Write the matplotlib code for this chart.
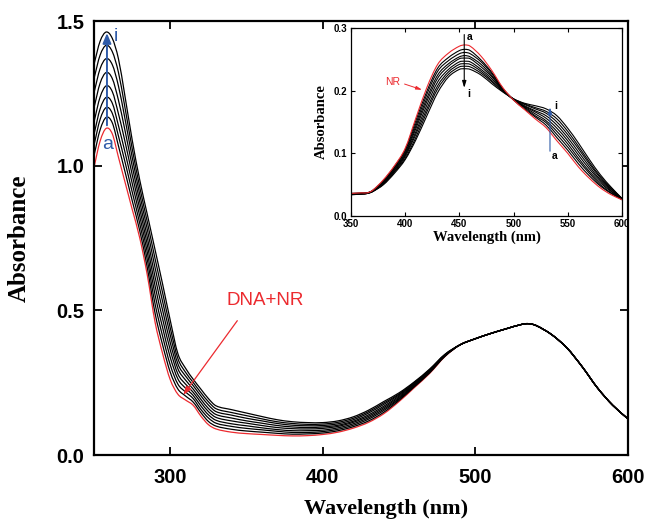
import matplotlib
matplotlib.use("Agg")
import matplotlib.pyplot as plt
from matplotlib.path import Path
from matplotlib.patches import PathPatch

# ---------------- main spectra (DNA + NR titration) ----------------
main_wl = [250, 254, 258, 262, 266, 270, 275, 280, 285, 290, 295, 300, 305, 310,
           315, 320, 325, 330, 340, 350, 360, 370, 380, 390, 400, 410, 420, 430,
           440, 450, 460, 470, 480,
           490, 500, 510, 520, 530, 535, 540, 550, 560, 570, 580, 590, 600]

# 250-480 nm, one list per curve (a = DNA+NR, red)
main_a = [0.994, 1.085, 1.129, 1.110, 1.030, 0.950, 0.850, 0.750, 0.620, 0.460, 0.350, 0.260, 0.210, 0.190,
          0.172, 0.135, 0.105, 0.090, 0.079, 0.074, 0.071, 0.068, 0.066, 0.067, 0.071, 0.079, 0.093, 0.113,
          0.143, 0.185, 0.233, 0.282, 0.340]
main_b = [1.035, 1.124, 1.167, 1.148, 1.069, 0.986, 0.880, 0.775, 0.646, 0.491, 0.380, 0.286, 0.228, 0.204,
          0.183, 0.147, 0.116, 0.100, 0.089, 0.083, 0.079, 0.075, 0.072, 0.073, 0.076, 0.084, 0.098, 0.118,
          0.148, 0.189, 0.236, 0.284, 0.341]
main_c = [1.071, 1.160, 1.201, 1.181, 1.103, 1.020, 0.910, 0.800, 0.673, 0.523, 0.410, 0.311, 0.245, 0.218,
          0.195, 0.158, 0.128, 0.110, 0.099, 0.092, 0.087, 0.082, 0.078, 0.078, 0.081, 0.089, 0.103, 0.124,
          0.154, 0.193, 0.238, 0.286, 0.342]
main_d = [1.108, 1.196, 1.236, 1.216, 1.139, 1.054, 0.940, 0.825, 0.699, 0.554, 0.440, 0.337, 0.263, 0.231,
          0.206, 0.170, 0.139, 0.120, 0.108, 0.101, 0.094, 0.088, 0.084, 0.084, 0.086, 0.094, 0.108, 0.129,
          0.159, 0.196, 0.241, 0.288, 0.343]
main_e = [1.151, 1.237, 1.276, 1.256, 1.180, 1.091, 0.970, 0.850, 0.725, 0.585, 0.470, 0.363, 0.280, 0.245,
          0.217, 0.182, 0.150, 0.130, 0.118, 0.110, 0.102, 0.095, 0.091, 0.090, 0.092, 0.099, 0.113, 0.134,
          0.164, 0.200, 0.243, 0.290, 0.344]
main_f = [1.200, 1.285, 1.322, 1.301, 1.227, 1.130, 1.000, 0.875, 0.751, 0.616, 0.500, 0.388, 0.298, 0.259,
          0.228, 0.193, 0.161, 0.140, 0.128, 0.118, 0.110, 0.102, 0.097, 0.095, 0.097, 0.103, 0.117, 0.139,
          0.169, 0.204, 0.246, 0.291, 0.345]
main_g = [1.252, 1.335, 1.370, 1.349, 1.276, 1.171, 1.030, 0.900, 0.778, 0.648, 0.530, 0.414, 0.315, 0.273,
          0.240, 0.205, 0.173, 0.150, 0.138, 0.127, 0.118, 0.109, 0.103, 0.101, 0.102, 0.108, 0.122, 0.145,
          0.175, 0.208, 0.248, 0.293, 0.346]
main_h = [1.301, 1.382, 1.416, 1.394, 1.323, 1.210, 1.060, 0.925, 0.804, 0.679, 0.560, 0.439, 0.333, 0.286,
          0.251, 0.216, 0.184, 0.160, 0.147, 0.136, 0.125, 0.115, 0.109, 0.106, 0.107, 0.113, 0.127, 0.150,
          0.180, 0.211, 0.251, 0.295, 0.347]
main_i = [1.350, 1.430, 1.462, 1.440, 1.370, 1.250, 1.090, 0.950, 0.830, 0.710, 0.590, 0.465, 0.350, 0.300,
          0.262, 0.228, 0.195, 0.170, 0.157, 0.145, 0.133, 0.122, 0.115, 0.112, 0.112, 0.118, 0.132, 0.155,
          0.185, 0.215, 0.253, 0.297, 0.348]
# 490-600 nm, the curves overlap
main_tail = [0.381, 0.402, 0.420, 0.436, 0.451, 0.454, 0.447, 0.416, 0.370, 0.305, 0.232, 0.172, 0.125]

# ---------------- inset (NR alone) ----------------
inset_wl = [350, 360, 365, 370, 380, 390, 400, 410, 420, 430, 440, 450, 455, 460,
            470, 480, 490, 500, 510, 520, 530, 540, 550, 560, 570, 580, 590, 600]
inset_a = [.036, .037, .037, .041, .058, .080, .108, .157, .205, .242, .260, .271, .273, .271,
           .255, .232, .205, .185, .170, .155, .141, .120, .100, .078, .060, .045, .034, .026]
inset_b = [.036, .037, .037, .041, .057, .079, .106, .153, .199, .236, .253, .264, .266, .264,
           .249, .229, .204, .185, .171, .158, .145, .125, .105, .083, .064, .048, .036, .026]
inset_c = [.036, .036, .037, .040, .056, .077, .104, .148, .194, .231, .248, .259, .261, .259,
           .246, .227, .203, .186, .173, .160, .149, .130, .110, .088, .068, .050, .037, .027]
inset_d = [.035, .036, .037, .040, .055, .076, .101, .144, .188, .225, .243, .254, .256, .254,
           .242, .224, .202, .186, .174, .163, .152, .135, .115, .092, .071, .053, .039, .027]
inset_e = [.035, .036, .037, .040, .054, .074, .099, .140, .183, .220, .239, .251, .252, .251,
           .238, .222, .202, .186, .175, .166, .156, .140, .120, .097, .075, .056, .040, .027]
inset_f = [.035, .036, .036, .040, .053, .073, .097, .135, .177, .214, .234, .246, .247, .246,
           .234, .219, .201, .186, .176, .168, .160, .145, .125, .102, .079, .058, .042, .027]
inset_g = [.035, .035, .036, .039, .052, .071, .095, .131, .171, .208, .230, .242, .243, .242,
           .231, .216, .200, .186, .178, .171, .164, .150, .130, .107, .083, .061, .043, .028]
inset_h = [.034, .035, .036, .039, .051, .070, .092, .126, .166, .203, .226, .238, .239, .238,
           .228, .214, .199, .187, .179, .173, .167, .155, .135, .111, .086, .063, .045, .028]
inset_i = [.034, .035, .036, .039, .050, .068, .090, .122, .160, .197, .222, .234, .235, .234,
           .225, .211, .198, .187, .180, .176, .171, .160, .140, .116, .090, .066, .046, .028]

RED = "#ec2a2f"
BLUE = "#2f5ba8"
SANS = "Liberation Sans"
SERIF = "Liberation Serif"


def smooth_line(ax, x, y, **kw):
    # draw the read points as one smooth curve (cubic Hermite segments)
    n = len(x)
    slopes = []
    for j in range(n):
        lo, hi = max(j - 1, 0), min(j + 1, n - 1)
        slopes.append((y[hi] - y[lo]) / (x[hi] - x[lo]))
    verts = [(x[0], y[0])]
    codes = [Path.MOVETO]
    for j in range(n - 1):
        h = (x[j + 1] - x[j]) / 3.0
        verts += [(x[j] + h, y[j] + slopes[j] * h),
                  (x[j + 1] - h, y[j + 1] - slopes[j + 1] * h),
                  (x[j + 1], y[j + 1])]
        codes += [Path.CURVE4] * 3
    ax.add_patch(PathPatch(Path(verts, codes), fill=False, capstyle="round",
                           joinstyle="round", **kw))


fig = plt.figure(figsize=(6.46, 5.19), dpi=100)

# ---------------- main axes ----------------
ax = fig.add_axes([0.1455, 0.1233, 0.8266, 0.8362])
smooth_line(ax, main_wl, main_a + main_tail, edgecolor=RED, lw=0.9, zorder=2)
for curve in [main_b, main_c, main_d, main_e, main_f, main_g, main_h, main_i]:
    smooth_line(ax, main_wl, curve + main_tail, edgecolor="black", lw=0.9, zorder=3)

ax.set_xlim(250, 600)
ax.set_ylim(0, 1.5)
ax.set_xticks([300, 400, 500, 600])
ax.set_yticks([0.0, 0.5, 1.0, 1.5])
ax.set_yticklabels(["0.0", "0.5", "1.0", "1.5"])
ax.tick_params(direction="in", top=True, right=True, length=6, width=1.3,
               labelsize=14.5)
ax.tick_params(axis="x", pad=9)
ax.tick_params(axis="y", pad=7)
for lab in ax.get_xticklabels() + ax.get_yticklabels():
    lab.set_fontweight("bold")
    lab.set_family(SANS)
for sp in ax.spines.values():
    sp.set_linewidth(1.6)

ax.set_xlabel("Wavelength (nm)", family=SERIF, fontweight="bold", fontsize=16)
ax.xaxis.set_label_coords(0.547, -0.101)
ax.set_ylabel("Absorbance", family=SERIF, fontweight="bold", fontsize=18)
ax.yaxis.set_label_coords(-0.119, 0.5)

ax.annotate("", xy=(258.5, 1.468), xytext=(258.5, 1.13),
            arrowprops=dict(arrowstyle="-|>,head_length=0.6,head_width=0.25",
                            color=BLUE, lw=1.4), zorder=5)
ax.text(264.5, 1.448, "i", color=BLUE, fontsize=14, family=SANS,
        ha="center", va="center")
ax.text(258.7, 1.072, "a", color=BLUE, fontsize=14, family=SANS,
        ha="center", va="center")
ax.text(362, 0.534, "DNA+NR", color=RED, fontsize=13.5, family=SANS,
        ha="center", va="center")
ax.annotate("", xy=(307.5, 0.20), xytext=(345, 0.472),
            arrowprops=dict(arrowstyle="-|>,head_length=0.5,head_width=0.18",
                            color=RED, lw=0.9), zorder=5)

# ---------------- inset ----------------
ins = fig.add_axes([0.5433, 0.5838, 0.4195, 0.3622])
ins.set_facecolor("white")
for curve in [inset_b, inset_c, inset_d, inset_e, inset_f, inset_g, inset_h, inset_i]:
    smooth_line(ins, inset_wl, curve, edgecolor="black", lw=0.8)
smooth_line(ins, inset_wl, inset_a, edgecolor=RED, lw=0.8)

ins.set_xlim(350, 600)
ins.set_ylim(0, 0.3)
ins.set_xticks([350, 400, 450, 500, 550, 600])
ins.set_yticks([0.0, 0.1, 0.2, 0.3])
ins.set_yticklabels(["0.0", "0.1", "0.2", "0.3"])
ins.tick_params(direction="in", top=True, right=True, length=3, width=0.8,
                labelsize=7)
ins.tick_params(axis="x", pad=2.5)
ins.tick_params(axis="y", pad=3)
for lab in ins.get_xticklabels() + ins.get_yticklabels():
    lab.set_fontweight("bold")
    lab.set_family(SANS)
for sp in ins.spines.values():
    sp.set_linewidth(0.9)
ins.set_xlabel("Wavelength (nm)", family=SERIF, fontweight="bold",
               fontsize=10.5, labelpad=1)
ins.set_ylabel("Absorbance", family=SERIF, fontweight="bold",
               fontsize=10.5, labelpad=4)

ins.annotate("", xy=(454.5, 0.200), xytext=(454.5, 0.294),
             arrowprops=dict(arrowstyle="-|>,head_length=0.4,head_width=0.12",
                             color="black", lw=0.8))
ins.text(459, 0.285, "a", fontsize=7.5, fontweight="bold", family=SANS,
         ha="center", va="center")
ins.text(458.5, 0.195, "i", fontsize=7.5, fontweight="bold", family=SANS,
         ha="center", va="center")
ins.annotate("", xy=(533.6, 0.178), xytext=(533.6, 0.099),
             arrowprops=dict(arrowstyle="-|>,head_length=0.4,head_width=0.12",
                             color=BLUE, lw=0.8))
ins.text(538.5, 0.175, "i", fontsize=7.5, fontweight="bold", family=SANS,
         ha="center", va="center")
ins.text(537.5, 0.096, "a", fontsize=7.5, fontweight="bold", family=SANS,
         ha="center", va="center")
ins.text(388, 0.214, "NR", color=RED, fontsize=7.5, family=SANS,
         ha="center", va="center")
ins.annotate("", xy=(418, 0.200), xytext=(397, 0.212),
             arrowprops=dict(arrowstyle="-|>,head_length=0.35,head_width=0.1",
                             color=RED, lw=0.7))

fig.savefig("out.png", dpi=100)
